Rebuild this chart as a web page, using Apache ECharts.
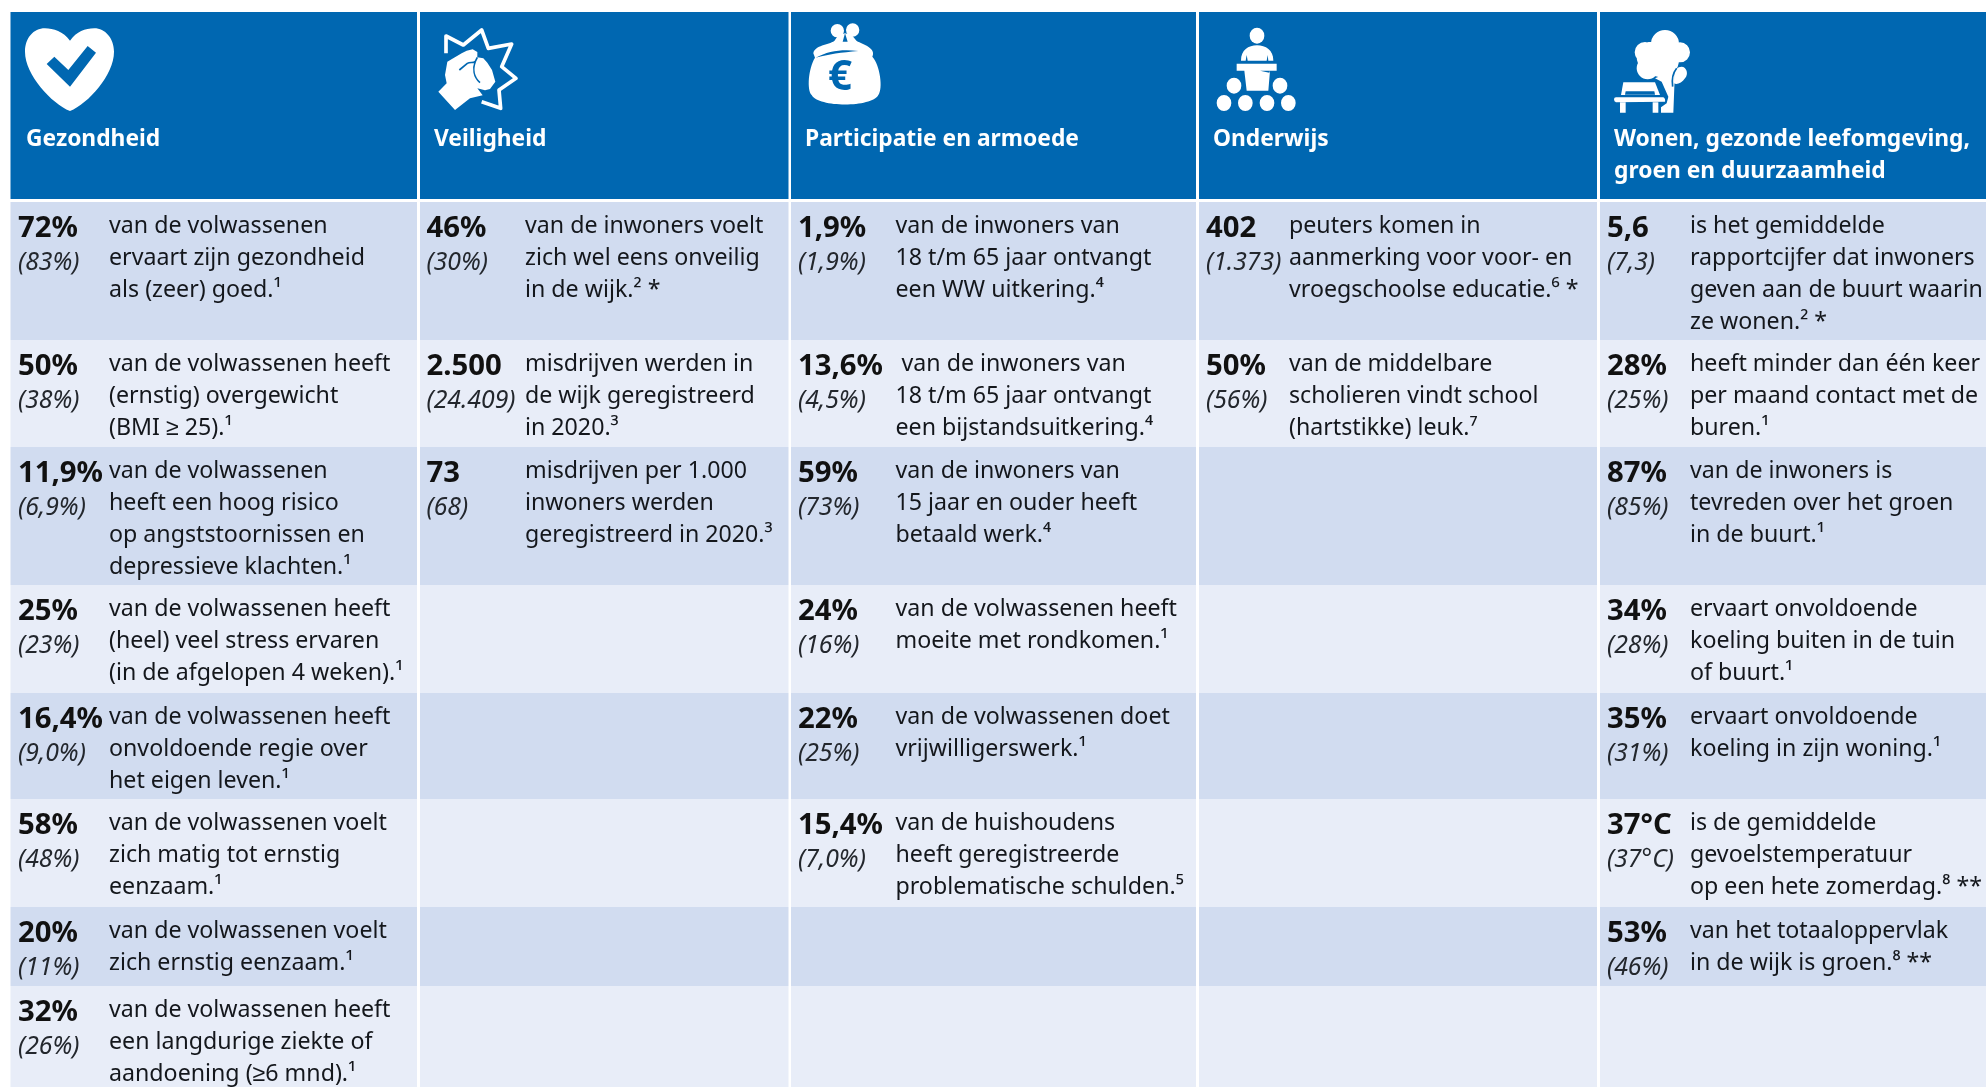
<!DOCTYPE html>
<html>
<head>
<meta charset="utf-8">
<title>Wijkprofiel</title>
<script src="https://cdn.jsdelivr.net/npm/echarts@6/dist/echarts.min.js"></script>
<style>
  html, body { margin: 0; padding: 0; background: #fff; }
  #chart { width: 1986px; height: 1087px; }
</style>
</head>
<body>
<div id="chart"></div>
<script>
// kolomkoppen
const headers = [
  ['Gezondheid'],
  ['Veiligheid'],
  ['Participatie en armoede'],
  ['Onderwijs'],
  ['Wonen, gezonde leefomgeving,', 'groen en duurzaamheid']
]

const gezondheidValues = ['72%', '50%', '11,9%', '25%', '16,4%', '58%', '20%', '32%']
const gezondheidRefs = ['(83%)', '(38%)', '(6,9%)', '(23%)', '(9,0%)', '(48%)', '(11%)', '(26%)']
const gezondheidTexts = [
  ['van de volwassenen', 'ervaart zijn gezondheid', 'als (zeer) goed.¹'],
  ['van de volwassenen heeft', '(ernstig) overgewicht', '(BMI ≥ 25).¹'],
  ['van de volwassenen', 'heeft een hoog risico', 'op angststoornissen en', 'depressieve klachten.¹'],
  ['van de volwassenen heeft', '(heel) veel stress ervaren', '(in de afgelopen 4 weken).¹'],
  ['van de volwassenen heeft', 'onvoldoende regie over', 'het eigen leven.¹'],
  ['van de volwassenen voelt', 'zich matig tot ernstig', 'eenzaam.¹'],
  ['van de volwassenen voelt', 'zich ernstig eenzaam.¹'],
  ['van de volwassenen heeft', 'een langdurige ziekte of', 'aandoening (≥6 mnd).¹']
]

const veiligheidValues = ['46%', '2.500', '73']
const veiligheidRefs = ['(30%)', '(24.409)', '(68)']
const veiligheidTexts = [
  ['van de inwoners voelt', 'zich wel eens onveilig', 'in de wijk.² *'],
  ['misdrijven werden in', 'de wijk geregistreerd', 'in 2020.³'],
  ['misdrijven per 1.000', 'inwoners werden', 'geregistreerd in 2020.³']
]

const participatieValues = ['1,9%', '13,6%', '59%', '24%', '22%', '15,4%']
const participatieRefs = ['(1,9%)', '(4,5%)', '(73%)', '(16%)', '(25%)', '(7,0%)']
const participatieTexts = [
  ['van de inwoners van', '18 t/m 65 jaar ontvangt', 'een WW uitkering.⁴'],
  [' van de inwoners van', '18 t/m 65 jaar ontvangt', 'een bijstandsuitkering.⁴'],
  ['van de inwoners van', '15 jaar en ouder heeft', 'betaald werk.⁴'],
  ['van de volwassenen heeft', 'moeite met rondkomen.¹'],
  ['van de volwassenen doet', 'vrijwilligerswerk.¹'],
  ['van de huishoudens', 'heeft geregistreerde', 'problematische schulden.⁵']
]

const onderwijsValues = ['402', '50%']
const onderwijsRefs = ['(1.373)', '(56%)']
const onderwijsTexts = [
  ['peuters komen in', 'aanmerking voor voor- en', 'vroegschoolse educatie.⁶ *'],
  ['van de middelbare', 'scholieren vindt school', '(hartstikke) leuk.⁷']
]

const wonenValues = ['5,6', '28%', '87%', '34%', '35%', '37°C', '53%']
const wonenRefs = ['(7,3)', '(25%)', '(85%)', '(28%)', '(31%)', '(37°C)', '(46%)']
const wonenTexts = [
  ['is het gemiddelde', 'rapportcijfer dat inwoners', 'geven aan de buurt waarin', 'ze wonen.² *'],
  ['heeft minder dan één keer', 'per maand contact met de', 'buren.¹'],
  ['van de inwoners is', 'tevreden over het groen', 'in de buurt.¹'],
  ['ervaart onvoldoende', 'koeling buiten in de tuin', 'of buurt.¹'],
  ['ervaart onvoldoende', 'koeling in zijn woning.¹'],
  ['is de gemiddelde', 'gevoelstemperatuur', 'op een hete zomerdag.⁸ **'],
  ['van het totaaloppervlak', 'in de wijk is groen.⁸ **']
]

const columnValues = [gezondheidValues, veiligheidValues, participatieValues, onderwijsValues, wonenValues]
const columnRefs = [gezondheidRefs, veiligheidRefs, participatieRefs, onderwijsRefs, wonenRefs]
const columnTexts = [gezondheidTexts, veiligheidTexts, participatieTexts, onderwijsTexts, wonenTexts]

// layout, in pixels van het plaatje
const colLeft = [10.5, 420, 791, 1199, 1600]
const colRight = [417, 788.5, 1196, 1597, 1986]
const headerX = [26, 434, 805, 1213, 1614]
const valueX = [18, 426.5, 798, 1206, 1607]
const textX = [109, 525, 895.5, 1289, 1690]
const headerTop = 12
const headerBottom = 199
const rowEdges = [202, 340, 447, 585, 693, 799, 907, 986, 1087]
const iconOrigin = [[15, 20], [430, 20], [795, 15], [1205, 20], [1605, 20]]

const BLUE = '#0067b1'
const ROW_DARK = '#d1dcf0'
const ROW_LIGHT = '#e8edf8'
const INK = '#14171c'
const FONT = '"Noto Sans", sans-serif'

const cellItems = []
const textItems = []

headers.forEach((lines, c) => {
  cellItems.push({ x0: colLeft[c], x1: colRight[c], y0: headerTop, y1: headerBottom, fill: BLUE })
  lines.forEach((line, i) => {
    textItems.push({ text: line, x: headerX[c], y: 139.5 + i * 32.5, font: 'bold 22.8px ' + FONT, fill: '#fff' })
  })
  for (let r = 0; r < rowEdges.length - 1; r++) {
    cellItems.push({
      x0: colLeft[c], x1: colRight[c], y0: rowEdges[r], y1: rowEdges[r + 1],
      fill: r % 2 === 0 ? ROW_DARK : ROW_LIGHT
    })
  }
  columnValues[c].forEach((value, r) => {
    const top = rowEdges[r]
    textItems.push({ text: value, x: valueX[c], y: top + 27, font: 'bold 29.3px ' + FONT, fill: '#111' })
    textItems.push({ text: columnRefs[c][r], x: valueX[c], y: top + 61, font: 'italic 24.8px ' + FONT, fill: '#23272d' })
    columnTexts[c][r].forEach((line, i) => {
      textItems.push({ text: line, x: textX[c], y: top + 24.7 + i * 31.8, font: '23.2px ' + FONT, fill: INK })
    })
  })
})
// euroteken in het portemonnee-icoon
textItems.push({ text: '€', x: 828, y: 78, font: 'bold 42px ' + FONT, fill: BLUE })

function dot(cx, cy, rx, ry) {
  return `M${cx - rx} ${cy}A${rx} ${ry} 0 1 1 ${cx + rx} ${cy}A${rx} ${ry} 0 1 1 ${cx - rx} ${cy}Z`
}

// iconen in een raster van 330x300, getekend op schaal 1/3
const icons = [
  [
    { d: 'M165 62C145 35 115 25 90 25C55 25 30 55 30 95C30 165 110 250 165 273C220 250 297 165 297 95C297 55 270 25 238 25C210 25 185 35 165 62Z', fill: '#fff' },
    { d: 'M95 132L118 110L160 150L218 78L243 98L165 200Z', fill: BLUE }
  ],
  [
    { d: 'M48 100L48 48L100 75L155 30L175 85L245 72L215 140L258 175L207 210L212 265L155 245', stroke: '#fff', width: 11 },
    { d: 'M25 215L50 190L45 165L52 125L95 100L110 92L128 88L142 96L142 112L160 115L172 128L186 150L196 185L180 207L165 211L142 205L158 226L120 235L75 270Z', fill: '#fff' },
    { d: 'M88 150L112 130C120 125 130 130 136 124L142 112M136 124C128 145 130 170 150 188', stroke: BLUE, width: 5 }
  ],
  [
    { d: dot(127, 47, 20, 20) + dot(173, 45, 20, 20), fill: '#fff' },
    { d: 'M118 78C100 90 60 90 55 115L60 128C40 160 35 225 50 240C70 278 230 278 250 240C265 220 255 150 232 125C245 100 205 88 185 78L170 60L150 55L130 60Z', fill: '#fff' },
    { d: 'M62 128C100 108 140 102 190 108C140 112 100 118 62 128Z', fill: BLUE },
    { d: 'M150 55L143 80L158 80Z', fill: BLUE }
  ],
  [
    { d: dot(156, 47, 22, 24), fill: '#fff' },
    { d: 'M108 122C108 90 130 76 156 76C182 76 205 90 205 122L190 122L188 105L185 122L128 122L125 105L122 122Z', fill: '#fff' },
    { d: 'M95 131L215 131L215 152L195 152L190 212L125 212L118 152L95 152Z', fill: '#fff' },
    { d: 'M165 152L195 152L193 158Z', fill: BLUE },
    { d: dot(87, 197, 22, 24) + dot(225, 197, 22, 24) + dot(57, 249, 22, 24) + dot(121, 249, 22, 24) + dot(186, 249, 22, 24) + dot(250, 249, 22, 24), fill: '#fff' }
  ],
  [
    { d: dot(120, 97, 31, 31) + dot(180, 72, 42, 42) + dot(225, 97, 30, 30) + dot(128, 145, 33, 33) + dot(170, 120, 52, 52) + dot(140, 110, 45, 45), fill: '#fff' },
    { d: 'M150 175L210 150L205 278L168 278L168 262L185 250L190 230L170 185Z', fill: '#fff' },
    { d: 'M212 148C240 125 255 160 240 175C230 190 215 195 207 190C207 175 208 160 212 148Z', fill: '#fff' },
    { d: 'M215 145C203 160 200 180 203 200', stroke: BLUE, width: 5 },
    { d: 'M48 225L55 187L150 187L165 225Z', fill: '#fff' },
    { d: 'M62 214L148 214L150 224L60 224Z', fill: BLUE },
    { d: 'M27 238Q27 232 33 232L175 232Q182 236 180 245L33 247Q27 245 27 238Z', fill: '#fff' },
    { d: 'M45 247L62 247L62 278L45 278ZM143 247L160 247L160 278L143 278Z', fill: '#fff' }
  ]
]

const iconParts = []
icons.forEach((parts, c) => {
  parts.forEach(part => iconParts.push({ ...part, origin: iconOrigin[c] }))
})

const chart = echarts.init(document.getElementById('chart'), null, { renderer: 'canvas' })
chart.setOption({
  animation: false,
  backgroundColor: '#fff',
  tooltip: { show: false },
  grid: { left: 0, right: 0, top: 0, bottom: 0 },
  xAxis: { type: 'value', min: 0, max: 1986, show: false },
  yAxis: { type: 'value', min: 0, max: 1087, inverse: true, show: false },
  series: [
    {
      type: 'custom',
      silent: true,
      z: 1,
      coordinateSystem: 'cartesian2d',
      clip: false,
      data: cellItems.map(d => [d.x0, d.y0, d.x1, d.y1]),
      renderItem(params, api) {
        const p0 = api.coord([api.value(0), api.value(1)])
        const p1 = api.coord([api.value(2), api.value(3)])
        return {
          type: 'rect',
          shape: { x: p0[0], y: p0[1], width: p1[0] - p0[0], height: p1[1] - p0[1] },
          style: { fill: cellItems[params.dataIndex].fill }
        }
      }
    },
    {
      type: 'custom',
      silent: true,
      z: 2,
      coordinateSystem: 'cartesian2d',
      clip: false,
      data: iconParts.map(d => d.origin),
      renderItem(params, api) {
        const part = iconParts[params.dataIndex]
        const p = api.coord([api.value(0), api.value(1)])
        return {
          type: 'path',
          x: p[0],
          y: p[1],
          scaleX: 1 / 3,
          scaleY: 1 / 3,
          shape: { pathData: part.d },
          style: part.stroke
            ? { fill: 'none', stroke: part.stroke, lineWidth: part.width, lineJoin: 'round' }
            : { fill: part.fill }
        }
      }
    },
    {
      type: 'custom',
      silent: true,
      z: 3,
      coordinateSystem: 'cartesian2d',
      clip: false,
      data: textItems.map(d => [d.x, d.y]),
      renderItem(params, api) {
        const item = textItems[params.dataIndex]
        const p = api.coord([api.value(0), api.value(1)])
        return {
          type: 'text',
          x: p[0],
          y: p[1],
          style: { text: item.text, font: item.font, fill: item.fill, textAlign: 'left', textVerticalAlign: 'middle' }
        }
      }
    }
  ]
})
</script>
</body>
</html>
